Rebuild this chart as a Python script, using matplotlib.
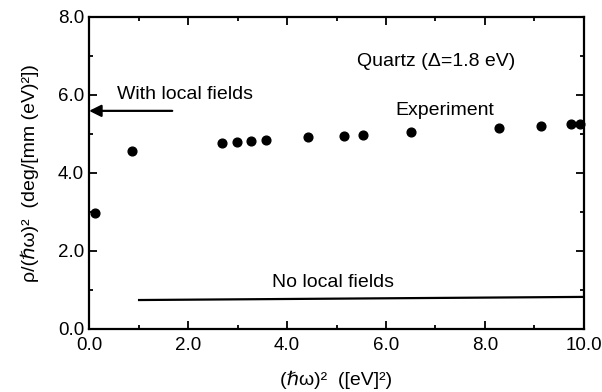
import matplotlib.pyplot as plt
import numpy as np

plt.rcParams['font.family'] = ['Liberation Sans', 'DejaVu Sans']

# experiment data
x_exp = [0.12, 0.87, 2.69, 2.99, 3.27, 3.58, 4.42, 5.15, 5.54, 6.51, 8.28, 9.13, 9.74, 9.92]
y_exp = [2.97, 4.56, 4.77, 4.79, 4.82, 4.85, 4.92, 4.95, 4.97, 5.05, 5.15, 5.20, 5.25, 5.25]

# no local fields line
x_nlf = [1.01, 10.0]
y_nlf = [0.74, 0.82]

# with local fields value (arrow)
y_wlf = 5.59
x_wlf_tail = 1.68

x_ticks = [0.0, 2.0, 4.0, 6.0, 8.0, 10.0]
y_ticks = [0.0, 2.0, 4.0, 6.0, 8.0]

fig = plt.figure(figsize=(6.02, 3.92), dpi=100)
ax = fig.add_axes([0.148, 0.161, 0.822, 0.796])

ax.plot(x_exp, y_exp, 'o', color='black', markersize=6.3, clip_on=False, zorder=3)
ax.plot(x_nlf, y_nlf, '-', color='black', linewidth=1.6)
ax.annotate('', xy=(0.0, y_wlf), xytext=(x_wlf_tail, y_wlf),
            arrowprops=dict(arrowstyle='-|>', color='black', lw=1.6,
                            mutation_scale=18, shrinkA=0, shrinkB=0))

ax.text(0.57, 6.0, 'With local fields', fontsize=14, va='center')
ax.text(5.41, 6.85, 'Quartz (\u0394=1.8 eV)', fontsize=14, va='center')
ax.text(6.18, 5.6, 'Experiment', fontsize=14, va='center')
ax.text(3.7, 1.2, 'No local fields', fontsize=14, va='center')

ax.set_xlim(0, 10)
ax.set_ylim(0, 8)
ax.set_xticks(x_ticks)
ax.set_xticklabels(['%.1f' % v for v in x_ticks])
ax.set_yticks(y_ticks)
ax.set_yticklabels(['%.1f' % v for v in y_ticks])
ax.set_xticks(np.arange(1, 10, 2), minor=True)
ax.set_yticks(np.arange(1, 8, 2), minor=True)
ax.tick_params(which='both', direction='in', top=True, right=True, labelsize=13.5, width=1.3)
ax.tick_params(axis='x', pad=6)
ax.tick_params(which='major', length=6)
ax.tick_params(which='minor', length=3)
for s in ax.spines.values():
    s.set_linewidth(1.6)

ax.set_xlabel('(\u210f\u03c9)\u00b2  ([eV]\u00b2)', fontsize=14, labelpad=12)
ax.set_ylabel('\u03c1/(\u210f\u03c9)\u00b2  (deg/[mm (eV)\u00b2])', fontsize=14, labelpad=14)

fig.savefig('out.png', dpi=100)
